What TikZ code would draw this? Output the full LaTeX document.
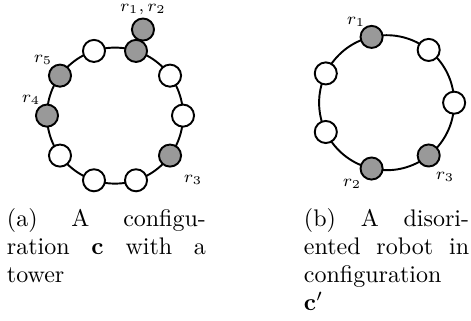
\documentclass[tikz,border=0pt]{standalone}
\usepackage{amsmath}
\usepackage{tikz}
\usetikzlibrary{positioning}

\begin{document}
\begin{tikzpicture}[x=0.4167pt,y=0.4167pt]
	\useasboundingbox (0,0) rectangle (471,320);
	\tikzset{spot/.style={circle, draw=black, line width=0.8pt, minimum size=9.2pt, inner sep=0pt, fill=white},
		robot/.style={spot, fill=black!40},
		rlabel/.style={font=\scriptsize, inner sep=0pt},
		capline/.style={anchor=base west, inner sep=0pt}}

	% --- (a) anillo de 10 nodos, torre en r1,r2 ---
	\coordinate (ca) at (115,204.4);
	\draw[line width=0.8pt] (ca) circle (68);
	\foreach \i/\kind in {0/spot,1/spot,2/robot,3/spot,4/robot,5/robot,6/spot,7/spot,8/spot,9/robot}
		\node[\kind] (a\i) at ([shift={(36*\i:68)}]ca) {};
	\node[robot] (tower) at ([shift={(72:90.5)}]ca) {};
	\node[rlabel] at (143,310.5) {$r_1, r_2$};
	\node[rlabel] at (43,260) {$r_5$};
	\node[rlabel] at (31,220) {$r_4$};
	\node[rlabel] at (193,140) {$r_3$};

	% --- (b) anillo de 7 nodos ---
	\coordinate (cb) at (386.6,217.3);
	\draw[line width=0.8pt] (cb) circle (67.5);
	\foreach \i/\kind in {0/spot,1/spot,2/robot,3/spot,4/spot,5/robot,6/robot}
		\node[\kind] (b\i) at ([shift={(360/7*\i:67.5)}]cb) {};
	\node[rlabel] at (356,298) {$r_1$};
	\node[rlabel] at (352,136) {$r_2$};
	\node[rlabel] at (445,143) {$r_3$};

	% --- Subtítulos ---
	\node[capline] (capa1) at (6.5,94) {\makebox[82.9pt][s]{(a) A configu-}};
	\node[capline] (capa2) at (6.5,66) {\makebox[82.9pt][s]{ration $\mathbf{c}$ with a}};
	\node[capline] (capa3) at (6.5,38) {tower};
	\node[capline] (capb1) at (303.5,94) {\makebox[68.8pt][s]{(b) A disori-}};
	\node[capline] (capb2) at (303.5,66) {\makebox[68.8pt][s]{ented robot in}};
	\node[capline] (capb3) at (303.5,38) {configuration};
	\node[capline] (capb4) at (303.5,10) {$\mathbf{c}'$};
\end{tikzpicture}
\end{document}
